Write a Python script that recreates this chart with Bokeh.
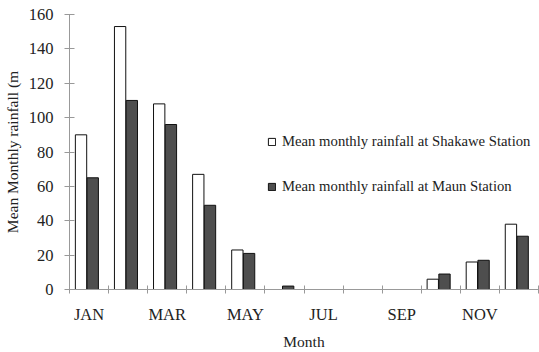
import numpy as np
from bokeh.plotting import figure
from bokeh.models import (ColumnDataSource, FixedTicker, Legend, LegendItem, Range1d)
from bokeh.transform import dodge
from bokeh.embed import file_html
from bokeh.resources import INLINE

months = ["JAN", "FEB", "MAR", "APR", "MAY", "JUN", "JUL", "AUG", "SEP", "OCT", "NOV", "DEC"]
shakawe = [90, 153, 108, 67, 23, 0, 0, 0, 0, 6, 16, 38]
maun = [65, 110, 96, 49, 21, 2, 0, 0, 0, 9, 17, 31]
y_ticks = [0, 20, 40, 60, 80, 100, 120, 140, 160]
x_tick_labels = ["JAN", "MAR", "MAY", "JUL", "SEP", "NOV"]

FONT = "Liberation Serif"
TXT = "#222222"

src = ColumnDataSource(dict(idx=list(range(len(months))), month=months,
                            shakawe=shakawe, maun=maun))

p = figure(width=539, height=352, output_backend="svg", toolbar_location=None,
           x_range=Range1d(0, 12), y_range=Range1d(0, 160),
           min_border_left=69, min_border_right=1, min_border_top=14,
           min_border_bottom=62)
p.outline_line_color = None
p.xgrid.visible = False
p.ygrid.visible = False
p.background_fill_color = "white"
p.border_fill_color = "white"

bw = 0.29
r1 = p.vbar(x=dodge("idx", 0.295), top="shakawe", width=bw, source=src,
            fill_color="white", line_color="#111111", line_width=1)
r2 = p.vbar(x=dodge("idx", 0.595), top="maun", width=bw, source=src,
            fill_color="#4e4e4e", line_color="#111111", line_width=1)

# x axis: labels every other month at centres, ticks at boundaries
centres = [months.index(m) + 0.5 for m in x_tick_labels]
xax = p.xaxis[0]
xax.ticker = FixedTicker(ticks=centres, minor_ticks=list(range(len(months) + 1)))
xax.major_label_overrides = {c: m for c, m in zip(centres, x_tick_labels)}
xax.major_tick_in = 0
xax.major_tick_out = 0
xax.minor_tick_in = 4
xax.minor_tick_out = 4
xax.minor_tick_line_color = "#999999"
xax.axis_line_color = "#999999"
xax.major_label_standoff = 11
xax.major_label_text_font = FONT
xax.major_label_text_font_size = "16.5px"
xax.major_label_text_color = TXT
xax.axis_label = "Month"
xax.axis_label_text_font = FONT
xax.axis_label_text_font_size = "15.5px"
xax.axis_label_text_font_style = "normal"
xax.axis_label_text_color = TXT
xax.axis_label_standoff = 6

yax = p.yaxis[0]
yax.ticker = FixedTicker(ticks=y_ticks, minor_ticks=[])
yax.major_tick_in = 5
yax.major_tick_out = 5
yax.major_tick_line_color = "#999999"
yax.axis_line_color = "#999999"
yax.major_label_standoff = 11
yax.major_label_text_font = FONT
yax.major_label_text_font_size = "16.5px"
yax.major_label_text_color = TXT
yax.axis_label = "Mean Monthly rainfall (m"
yax.axis_label_text_font = FONT
yax.axis_label_text_font_size = "15.5px"
yax.axis_label_text_font_style = "normal"
yax.axis_label_text_color = TXT
yax.axis_label_standoff = 5

legend = Legend(items=[
    LegendItem(label="Mean monthly rainfall at Shakawe Station", renderers=[r1]),
    LegendItem(label="Mean monthly rainfall at Maun Station", renderers=[r2]),
], location=(198, 94))
legend.border_line_color = None
legend.background_fill_alpha = 0
legend.label_text_font = FONT
legend.label_text_font_size = "14.7px"
legend.label_text_color = TXT
legend.glyph_width = 9
legend.glyph_height = 9
legend.label_standoff = 6
legend.label_height = 15
legend.spacing = 28
legend.padding = 0
legend.margin = 0
p.add_layout(legend)

open("out.html", "w").write(file_html(p, INLINE))
